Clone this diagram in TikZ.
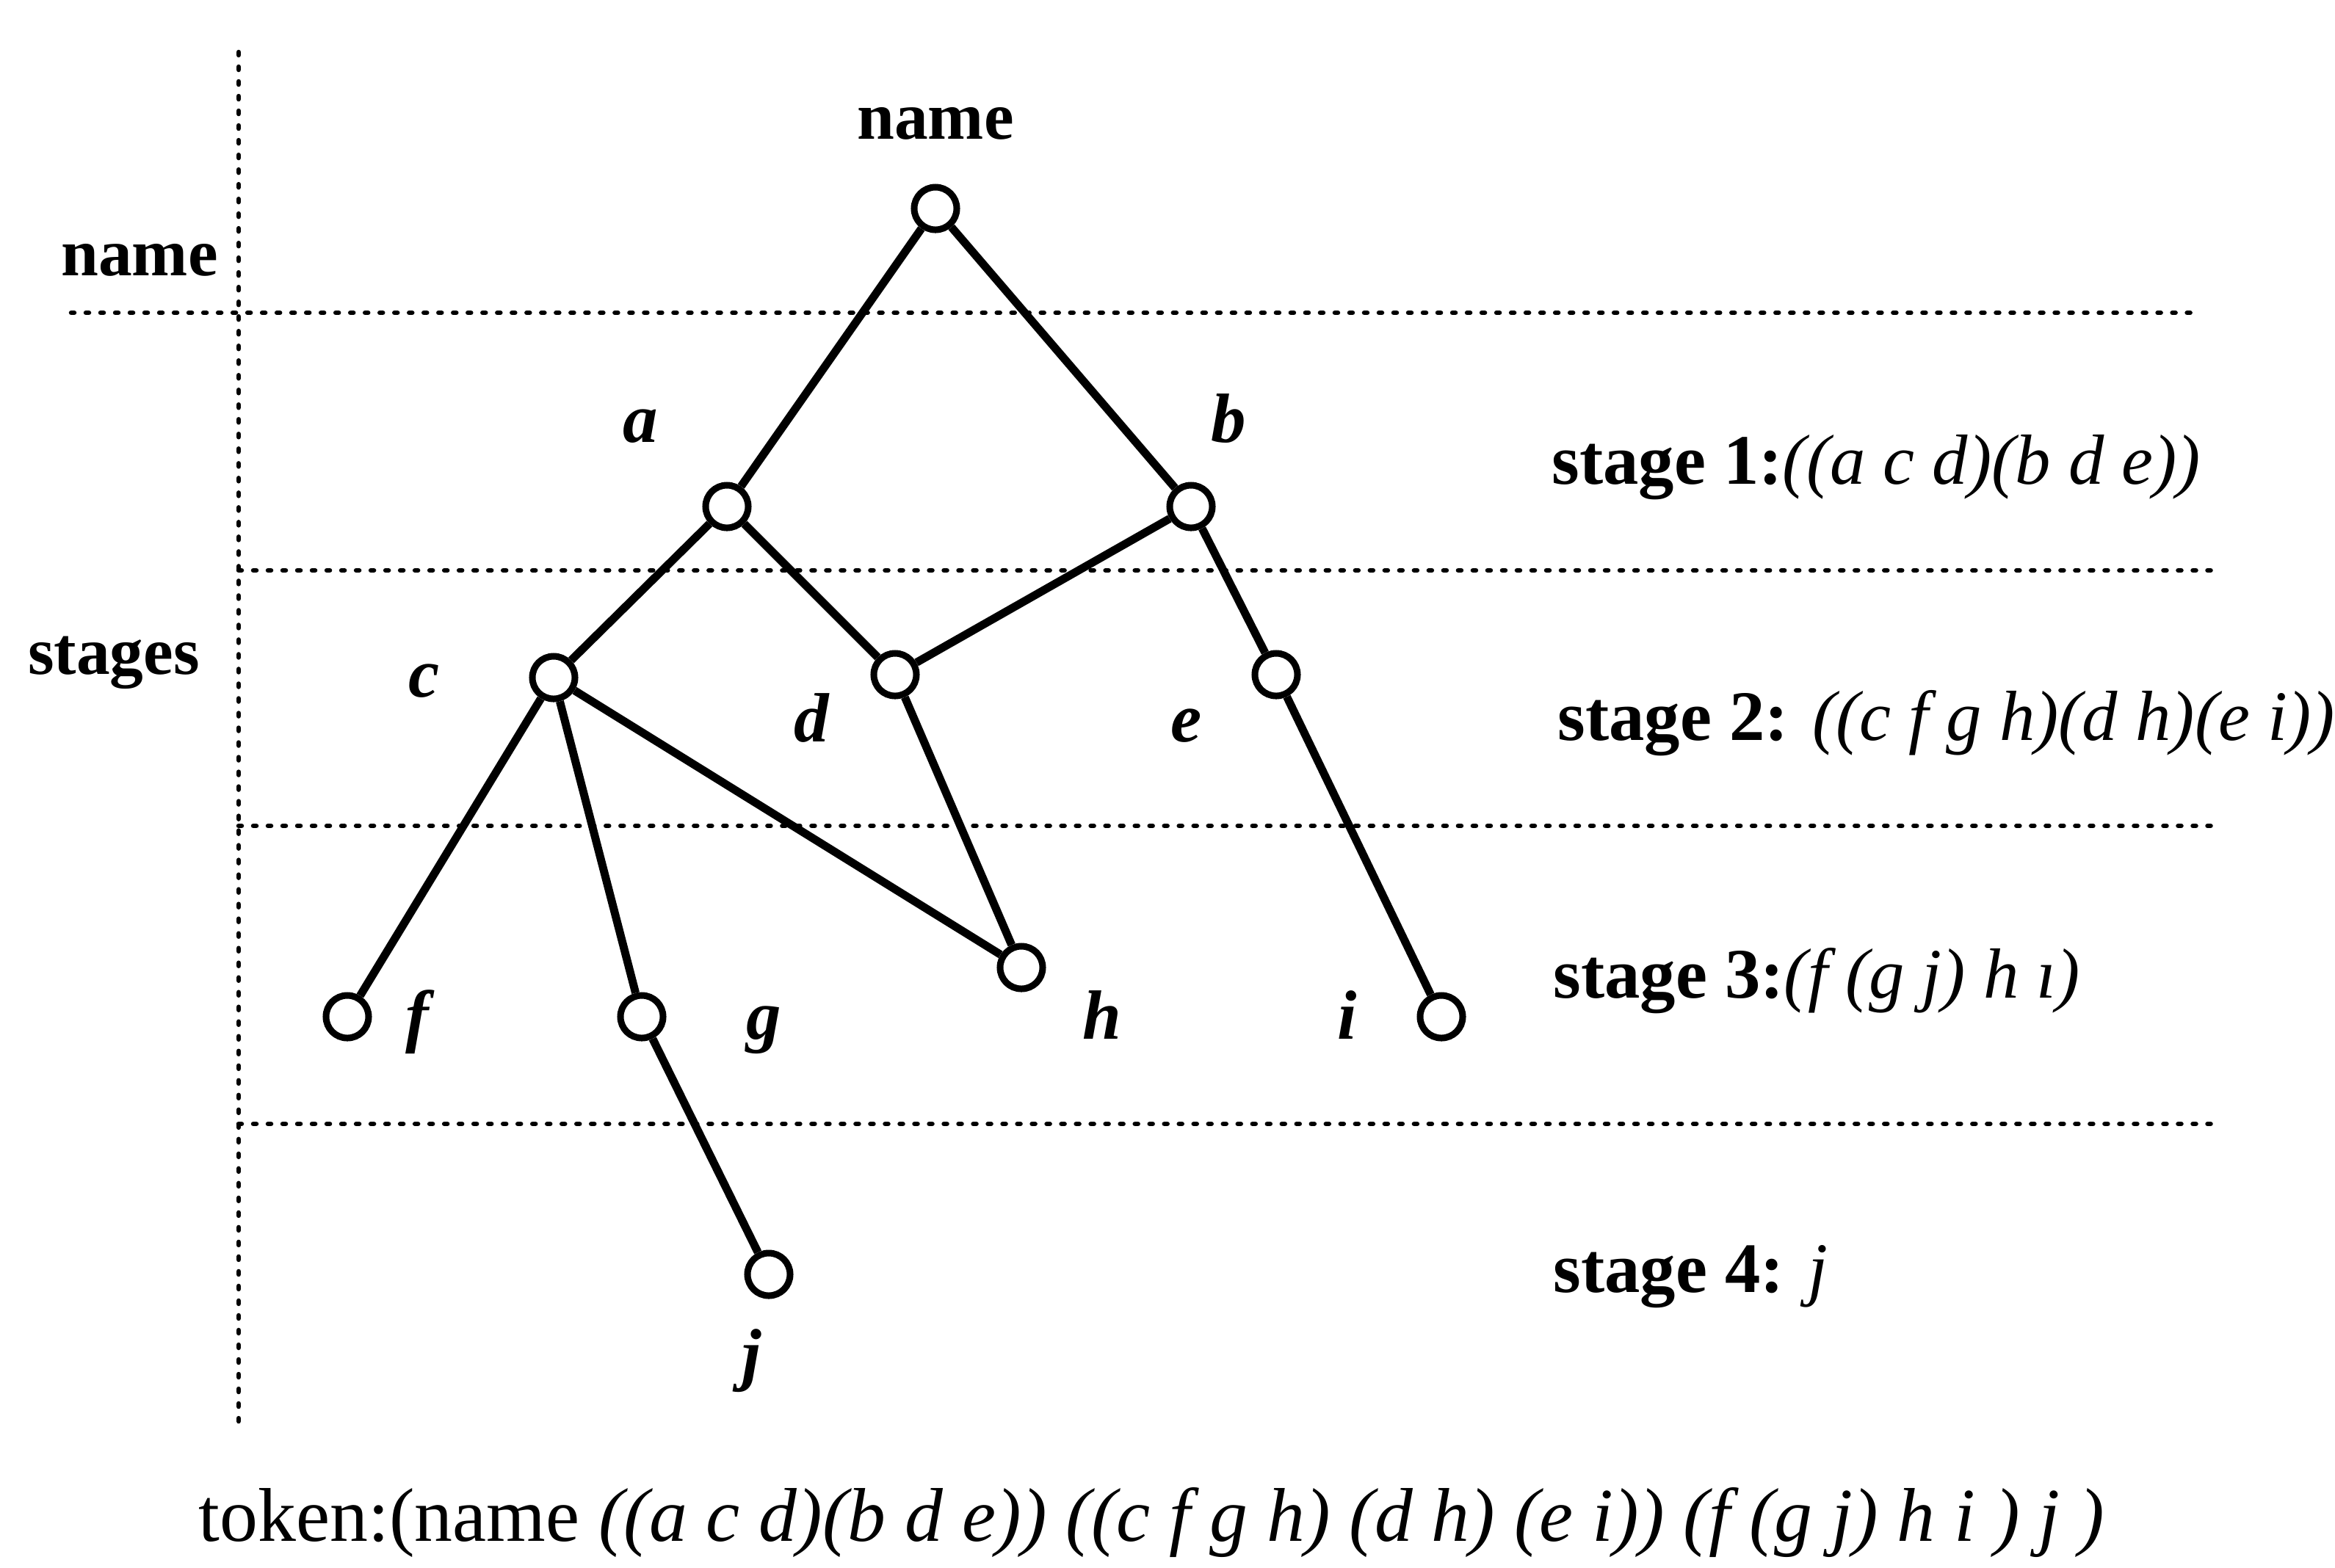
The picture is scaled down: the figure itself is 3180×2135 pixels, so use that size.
\documentclass[tikz,border=0pt]{standalone}
\usepackage{fontspec}
\setmainfont{Liberation Serif}
\begin{document}
\begin{tikzpicture}[x=0.01cm,y=-0.01cm,
  vert/.style={circle,draw,line width=0.09cm,minimum size=0.58cm,inner sep=0pt,fill=white},
  edge/.style={line width=0.11cm},
  dotline/.style={line width=0.065cm,dash pattern=on 0.04cm off 0.16cm,line cap=round},
  lab/.style={font=\fontsize{27}{30}\selectfont\bfseries\itshape,anchor=base,inner sep=0pt},
  word/.style={font=\fontsize{26}{30}\selectfont\bfseries,anchor=base,inner sep=0pt},
  stagetext/.style={font=\fontsize{27.5}{30}\selectfont,anchor=base west,inner sep=0pt},
  toktext/.style={font=\fontsize{29.5}{32}\selectfont,anchor=base west,inner sep=0pt}]
\useasboundingbox (0,0) rectangle (3180,2135);
% guide lines
\draw[dotline] (325,71) -- (325,1943);
\draw[dotline] (97,426) -- (2991,426);
\draw[dotline] (325,777) -- (3016,777);
\draw[dotline] (325,1125) -- (3016,1125);
\draw[dotline] (325,1531) -- (3016,1531);
% left labels
\node[word] (lname) at (190,375) {name};
\node[word] (lstages) at (155,918) {stages};
% vertices
\node[vert] (vname) at (1274,284) {};
\node[vert] (va) at (990,690) {};
\node[vert] (vb) at (1622,690) {};
\node[vert] (vc) at (754,923) {};
\node[vert] (vd) at (1219,919) {};
\node[vert] (ve) at (1738,919) {};
\node[vert] (vf) at (473,1385) {};
\node[vert] (vg) at (874,1385) {};
\node[vert] (vh) at (1391,1318) {};
\node[vert] (vi) at (1963,1385) {};
\node[vert] (vj) at (1047,1736) {};
% edges
\draw[edge] (vname) -- (va);
\draw[edge] (vname) -- (vb);
\draw[edge] (va) -- (vc);
\draw[edge] (va) -- (vd);
\draw[edge] (vb) -- (vd);
\draw[edge] (vb) -- (ve);
\draw[edge] (vc) -- (vf);
\draw[edge] (vc) -- (vg);
\draw[edge] (vc) -- (vh);
\draw[edge] (vd) -- (vh);
\draw[edge] (ve) -- (vi);
\draw[edge] (vg) -- (vj);
% vertex labels
\node[word] (tname) at (1274,189) {name};
\node[lab] (la) at (872,602) {a};
\node[lab] (lb) at (1673,602) {b};
\node[lab] (lc) at (578,949) {c};
\node[lab] (ld) at (1105,1010) {d};
\node[lab] (le) at (1616,1010) {e};
\node[lab] (lf) at (568,1415) {f};
\node[lab] (lg) at (1040,1415) {g};
\node[lab] (lh) at (1501,1415) {h};
\node[lab] (li) at (1835,1415) {i};
\node[lab] (lj) at (1024,1876) {j};
% stage texts
\node[stagetext] (s1) at (2113,659) {\textbf{stage 1:}\textit{((a c d)(b d e))}};
\node[stagetext] (s2) at (2121,1008) {\textbf{stage 2:} \textit{((c f g h)(d h)(e i))}};
\node[stagetext] (s3) at (2115,1359) {\textbf{stage 3:}\textit{(f (g j) h ı)}};
\node[stagetext] (s4) at (2115,1760) {\textbf{stage 4:} \textit{j}};
% token
\node[toktext] (tok) at (270,2099) {token:(name \textit{((a c d)(b d e)) ((c f g h) (d h) (e i)) (f (g j) h i ) j )}};
\end{tikzpicture}
\end{document}
